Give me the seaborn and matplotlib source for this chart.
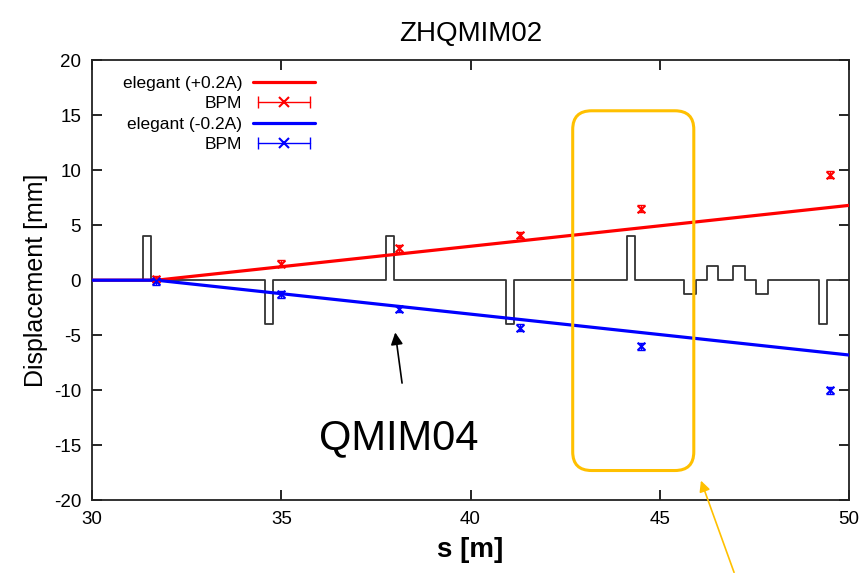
import numpy as np
import matplotlib
matplotlib.use("Agg")
import matplotlib.pyplot as plt
import seaborn as sns
from matplotlib.lines import Line2D
from matplotlib.legend_handler import HandlerLine2D, HandlerTuple
from matplotlib.patches import FancyBboxPatch

# elegant model trajectories
s_model = [30.0, 31.7, 50.0]
x_plus = [0.0, 0.0, 6.8]
x_minus = [0.0, 0.0, -6.8]

# BPM readings
s_bpm = [31.7, 35.0, 38.1, 41.3, 44.5, 49.5]
bpm_plus = [0.1, 1.5, 2.9, 4.1, 6.5, 9.6]
bpm_minus = [-0.1, -1.3, -2.6, -4.3, -6.0, -10.0]
bpm_err = [0.3, 0.3, 0.3, 0.3, 0.3, 0.3]

# lattice (magnet boxes)
mag_start = [31.35, 34.57, 37.77, 40.93, 44.13, 45.65, 46.26, 46.94, 47.54, 49.21]
mag_end = [31.56, 34.78, 37.98, 41.15, 44.35, 45.96, 46.53, 47.26, 47.86, 49.43]
mag_h = [4, -4, 4, -4, 4, -1.3, 1.3, 1.3, -1.3, -4]

sns.set_style("ticks")
plt.rcParams['font.family'] = ['Liberation Sans', 'DejaVu Sans']
plt.rcParams['axes.unicode_minus'] = False
plt.rcParams['text.color'] = 'black'
plt.rcParams['axes.labelcolor'] = 'black'
plt.rcParams['xtick.color'] = 'black'
plt.rcParams['ytick.color'] = 'black'

fig = plt.figure(figsize=(8.61, 5.73), dpi=100)
ax = fig.add_axes([0.107, 0.127, 0.879, 0.768])

# lattice outline
lat_x, lat_y = [30.0], [0.0]
for a, b, h in zip(mag_start, mag_end, mag_h):
    lat_x += [a, a, b, b]
    lat_y += [0, h, h, 0]
lat_x.append(50.0)
lat_y.append(0.0)
ax.plot(lat_x, lat_y, color="#333333", lw=1.3, zorder=1)

sns.lineplot(x=s_model, y=x_plus, color="red", lw=2.3, ax=ax, zorder=3)
sns.lineplot(x=s_model, y=x_minus, color="blue", lw=2.3, ax=ax, zorder=3)

ax.errorbar(s_bpm, bpm_plus, yerr=bpm_err, fmt="none", ecolor="red",
            elinewidth=1, capsize=3, zorder=4)
ax.errorbar(s_bpm, bpm_minus, yerr=bpm_err, fmt="none", ecolor="blue",
            elinewidth=1, capsize=3, zorder=4)
sns.scatterplot(x=s_bpm, y=bpm_plus, marker="x", color="red", s=30,
                linewidth=1.5, ax=ax, zorder=5)
sns.scatterplot(x=s_bpm, y=bpm_minus, marker="x", color="blue", s=30,
                linewidth=1.5, ax=ax, zorder=5)

ax.set_xlim(30, 50)
ax.set_ylim(-20, 20)
ax.set_xticks([30, 35, 40, 45, 50])
ax.set_yticks(np.arange(-20, 21, 5))
ax.tick_params(direction="in", length=7, width=1.2, top=True, right=True,
               labelsize=13.5, pad=8)
for sp in ax.spines.values():
    sp.set_linewidth(1.3)
    sp.set_color("#222222")

ax.set_title("ZHQMIM02", fontsize=20, pad=14)
ax.set_xlabel("s [m]", fontsize=20, fontweight="bold", labelpad=6)
ax.set_ylabel("Displacement [mm]", fontsize=18, labelpad=4)

# legend, gnuplot style
h_rp = Line2D([], [], color="red", lw=2.3)
h_bp = Line2D([], [], color="blue", lw=2.3)
cap_r = Line2D([], [], color="red", lw=1, marker="|", ms=9, mew=1)
x_r = Line2D([], [], color="red", ls="none", marker="x", ms=7, mew=1.5)
cap_b = Line2D([], [], color="blue", lw=1, marker="|", ms=9, mew=1)
x_b = Line2D([], [], color="blue", ls="none", marker="x", ms=7, mew=1.5)
hmap = {cap_r: HandlerLine2D(numpoints=2), cap_b: HandlerLine2D(numpoints=2),
        x_r: HandlerLine2D(numpoints=1), x_b: HandlerLine2D(numpoints=1),
        tuple: HandlerTuple(ndivide=1)}
ax.legend([h_rp, (cap_r, x_r), h_bp, (cap_b, x_b)],
          ["elegant (+0.2A)", "BPM", "elegant (-0.2A)", "BPM"],
          loc="upper left", bbox_to_anchor=(0.02, 1.0), markerfirst=False,
          frameon=False, fontsize=12.5, handlelength=3.6, labelspacing=0.3,
          handletextpad=0.6, handler_map=hmap)
for t in ax.get_legend().get_texts():
    t.set_ha("right")
ax.get_legend()._legend_box.align = "right"

# annotations
ax.annotate("", xy=(38.0, -4.5), xytext=(38.2, -9.6),
            arrowprops=dict(arrowstyle="-|>", color="black", lw=1.2,
                            mutation_scale=18))
ax.text(38.1, -14.4, "QMIM04", fontsize=30, ha="center", va="center")

box = FancyBboxPatch((42.7, -17.3), 3.2, 32.7,
                     boxstyle="round,pad=0,rounding_size=0.5",
                     mutation_aspect=3.4, fill=False, ec="#FFC000", lw=2.2,
                     zorder=6)
ax.add_patch(box)
ax.annotate("", xy=(700 / 861, 1 - 478 / 573), xycoords="figure fraction",
            xytext=(735 / 861, 1 - 575 / 573), textcoords="figure fraction",
            arrowprops=dict(arrowstyle="-|>", color="#FFC000", lw=1.2,
                            mutation_scale=16))

fig.savefig("out.png", dpi=100)
